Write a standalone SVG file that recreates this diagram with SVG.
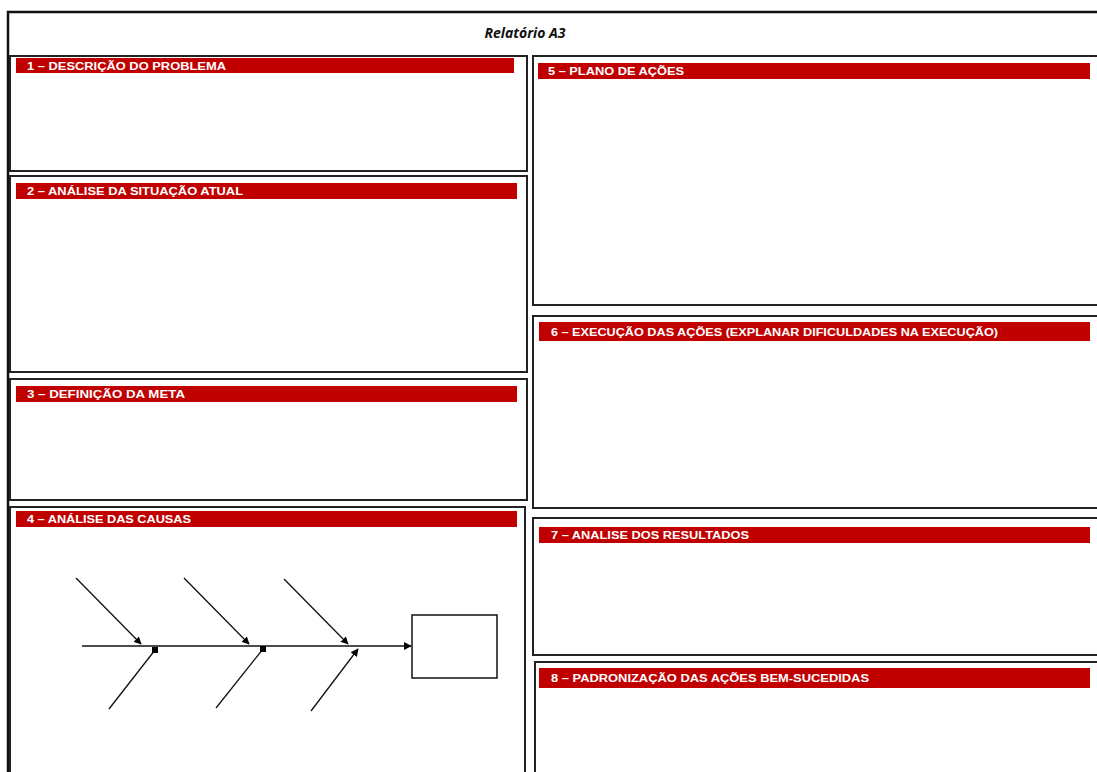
<svg xmlns="http://www.w3.org/2000/svg" width="1097" height="772" viewBox="0 0 1097 772">
<style>
.panel{fill:#fff;stroke:#222;stroke-width:2}
.bar{fill:#c00000}
.hd{fill:#fff;font-family:"Liberation Sans",Arial,sans-serif;font-weight:bold;font-size:11px}
.ln{stroke:#111;stroke-width:1.3;fill:none}
</style>
<defs>
<marker id="arr" viewBox="0 0 10 10" refX="9" refY="5" markerWidth="6" markerHeight="6" orient="auto"><path d="M0,0 L10,5 L0,10 z" fill="#000"/></marker>
<marker id="sq" viewBox="0 0 10 10" refX="5" refY="5" markerWidth="6" markerHeight="6" markerUnits="userSpaceOnUse" orient="0"><rect x="0" y="0" width="10" height="10" fill="#000"/></marker>
</defs>
<rect width="1097" height="772" fill="#fff"/>
<path d="M8,772 V12 H1097" fill="none" stroke="#111" stroke-width="2.5"/>
<text x="525" y="38" text-anchor="middle" font-family="'Open Sans','Liberation Sans',sans-serif" font-style="italic" font-weight="bold" font-size="14" fill="#111">Relatório A3</text>
<g id="p1"><rect class="panel" x="10" y="56" width="517" height="115"/><rect class="bar" x="16" y="58" width="498" height="15"/><text class="hd" x="27" y="70" textLength="199" lengthAdjust="spacingAndGlyphs">1 – DESCRIÇÃO DO PROBLEMA</text></g>
<g id="p2"><rect class="panel" x="10" y="176" width="517" height="196"/><rect class="bar" x="16" y="183" width="501" height="16"/><text class="hd" x="27" y="195" textLength="216" lengthAdjust="spacingAndGlyphs">2 – ANÁLISE DA SITUAÇÃO ATUAL</text></g>
<g id="p3"><rect class="panel" x="10" y="379" width="517" height="121"/><rect class="bar" x="16" y="386" width="501" height="16"/><text class="hd" x="27" y="398" textLength="158" lengthAdjust="spacingAndGlyphs">3 – DEFINIÇÃO DA META</text></g>
<g id="p4"><rect class="panel" x="10" y="507" width="515" height="270"/><rect class="bar" x="16" y="511" width="501" height="16"/><text class="hd" x="27" y="523" textLength="164" lengthAdjust="spacingAndGlyphs">4 – ANÁLISE DAS CAUSAS</text></g>
<g id="p5"><rect class="panel" x="533" y="56" width="570" height="249"/><rect class="bar" x="538" y="63" width="552" height="16"/><text class="hd" x="548" y="75" textLength="136" lengthAdjust="spacingAndGlyphs">5 – PLANO DE AÇÕES</text></g>
<g id="p6"><rect class="panel" x="533" y="316" width="570" height="192"/><rect class="bar" x="539" y="322" width="551" height="19"/><text class="hd" x="551" y="336" textLength="447" lengthAdjust="spacingAndGlyphs">6 – EXECUÇÃO DAS AÇÕES (EXPLANAR DIFICULDADES NA EXECUÇÃO)</text></g>
<g id="p7"><rect class="panel" x="533" y="518" width="570" height="137"/><rect class="bar" x="539" y="527" width="551" height="16"/><text class="hd" x="551" y="539" textLength="198" lengthAdjust="spacingAndGlyphs">7 – ANALISE DOS RESULTADOS</text></g>
<g id="p8"><rect class="panel" x="535" y="662" width="568" height="115"/><rect class="bar" x="539" y="668" width="551" height="20"/><text class="hd" x="551" y="682" textLength="318" lengthAdjust="spacingAndGlyphs">8 – PADRONIZAÇÃO DAS AÇÕES BEM-SUCEDIDAS</text></g>
<g id="effect"><rect x="412" y="615" width="85" height="63" fill="#fff" stroke="#111" stroke-width="1.5"/></g>
<g id="connectors">
<line class="ln" x1="82" y1="646" x2="411" y2="646" marker-end="url(#arr)"/>
<line class="ln" x1="76" y1="578" x2="141" y2="644" marker-end="url(#arr)"/>
<line class="ln" x1="184" y1="578" x2="249" y2="644" marker-end="url(#arr)"/>
<line class="ln" x1="284" y1="579" x2="348" y2="644" marker-end="url(#arr)"/>
<line class="ln" x1="109" y1="709" x2="155" y2="650" marker-end="url(#sq)"/>
<line class="ln" x1="216" y1="708" x2="263" y2="649" marker-end="url(#sq)"/>
<line class="ln" x1="311" y1="711" x2="358" y2="649" marker-end="url(#arr)"/>
</g>
</svg>
